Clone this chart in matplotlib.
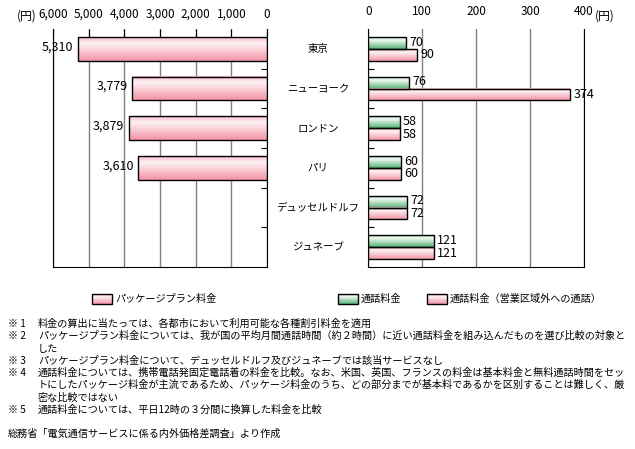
import matplotlib.pyplot as plt
import numpy as np
from matplotlib.colors import to_rgb
from matplotlib.transforms import blended_transform_factory
from matplotlib.patches import Rectangle

plt.rcParams['font.family'] = ['Noto Sans CJK JP', 'DejaVu Sans']

# Data
cities = ["東京", "ニューヨーク", "ロンドン", "パリ", "デュッセルドルフ", "ジュネーブ"]
package_fee = [5310, 3779, 3879, 3610, None, None]
call_fee = [70, 76, 58, 60, 72, 121]
call_fee_out = [90, 374, 58, 60, 72, 121]
left_ticks = [6000, 5000, 4000, 3000, 2000, 1000, 0]
right_ticks = [0, 100, 200, 300, 400]
legend_labels = ["パッケージプラン料金", "通話料金", "通話料金（営業区域外への通話）"]
notes = [
    ("※ 1", "料金の算出に当たっては、各都市において利用可能な各種割引料金を適用"),
    ("※ 2", "パッケージプラン料金については、我が国の平均月間通話時間（約２時間）に近い通話料金を組み込んだものを選び比較の対象と"),
    ("", "した"),
    ("※ 3", "パッケージプラン料金について、デュッセルドルフ及びジュネーブでは該当サービスなし"),
    ("※ 4", "通話料金については、携帯電話発固定電話着の料金を比較。なお、米国、英国、フランスの料金は基本料金と無料通話時間をセッ"),
    ("", "トにしたパッケージ料金が主流であるため、パッケージ料金のうち、どの部分までが基本料であるかを区別することは難しく、厳"),
    ("", "密な比較ではない"),
    ("※ 5", "通話料金については、平日12時の３分間に換算した料金を比較"),
]
source = "総務省「電気通信サービスに係る内外価格差調査」より作成"

W, H = 635, 449
fig = plt.figure(figsize=(W / 100, H / 100), dpi=100)


def fx(px):
    return px / W


def fy(py):
    return 1 - py / H


def gradient(top, mid, bottom, n=40):
    top, mid, bottom = np.array(to_rgb(top)), np.array(to_rgb(mid)), np.array(to_rgb(bottom))
    t = np.linspace(0, 1, n)
    rows = []
    for v in t:
        if v < 0.25:
            c = top + (mid - top) * v / 0.25
        else:
            c = mid + (bottom - mid) * (v - 0.25) / 0.75
        rows.append(c)
    return np.array(rows)[:, None, :]


pink = gradient("#f5bcc7", "#fdf2f4", "#f595a8")
green = gradient("#b4dcbf", "#f0f9f2", "#55b374")


def fill_bars(ax, bars, grad):
    for p in bars.patches:
        x0, y0, w, h = p.get_x(), p.get_y(), p.get_width(), p.get_height()
        ax.imshow(grad, extent=(x0, x0 + w, y0 + h, y0), origin="upper",
                  aspect="auto", zorder=2, interpolation="bilinear")


ypos = np.arange(len(cities))
axl = fig.add_axes([fx(53), fy(267), fx(267 - 53), (267 - 29) / H])
axr = fig.add_axes([fx(368.3), fy(267), fx(584 - 368.3), (267 - 29) / H])

# left panel
idx = [i for i, v in enumerate(package_fee) if v is not None]
vals = [package_fee[i] for i in idx]
b = axl.barh([ypos[i] for i in idx], vals, height=0.6, facecolor="none",
             edgecolor="black", linewidth=1, zorder=3)
fill_bars(axl, b, pink)
for i, v in zip(idx, vals):
    axl.text(v + 120, ypos[i] - 0.05, f"{v:,}", ha="right", va="center", fontsize=9)

axl.set_xlim(6000, 0)
axl.set_ylim(len(cities) - 0.5, -0.5)
axl.set_xticks(left_ticks)
axl.set_xticklabels([f"{t:,}" for t in left_ticks])
axl.xaxis.tick_top()
axl.tick_params(axis="x", direction="in", length=6, pad=6, labelsize=8.5, color="black")
axl.grid(axis="x", color="#808080", linewidth=1, zorder=1)
axl.set_axisbelow(True)
axl.spines["top"].set_visible(False)
axl.yaxis.tick_right()
axl.set_yticks(ypos[:-1] + 0.5)
axl.set_yticklabels([])
axl.tick_params(axis="y", direction="in", length=4)

# right panel
b1 = axr.barh(ypos - 0.15, call_fee, height=0.3, facecolor="none",
              edgecolor="black", linewidth=1, zorder=3)
b2 = axr.barh(ypos + 0.15, call_fee_out, height=0.3, facecolor="none",
              edgecolor="black", linewidth=1, zorder=3)
fill_bars(axr, b1, green)
fill_bars(axr, b2, pink)
for i in range(len(cities)):
    axr.text(call_fee[i] + 6, ypos[i] - 0.17, str(call_fee[i]), ha="left", va="center", fontsize=9)
    axr.text(call_fee_out[i] + 6, ypos[i] + 0.15, str(call_fee_out[i]), ha="left", va="center", fontsize=9)

axr.set_xlim(0, 400)
axr.set_ylim(len(cities) - 0.5, -0.5)
axr.set_xticks(right_ticks)
axr.xaxis.tick_top()
axr.tick_params(axis="x", length=0, pad=8, labelsize=8.5)
axr.grid(axis="x", color="#808080", linewidth=1, zorder=1)
axr.set_axisbelow(True)
axr.spines["top"].set_visible(False)
axr.set_yticks(ypos[:-1] + 0.5)
axr.set_yticklabels([])
axr.tick_params(axis="y", direction="in", length=4)

# unit labels
fig.text(fx(37), fy(16), "(円)", ha="right", va="center", fontsize=8.5)
fig.text(fx(595), fy(16), "(円)", ha="left", va="center", fontsize=8.5)

# city labels
tr = blended_transform_factory(fig.transFigure, axr.transData)
for i, c in enumerate(cities):
    fig.text(fx(318), ypos[i], c, transform=tr, ha="center", va="center", fontsize=7.5)

# legend
leg_x = [92, 338, 427]
leg_cols = [pink, green, pink]
for x, g, lab in zip(leg_x, leg_cols, legend_labels):
    lax = fig.add_axes([fx(x), fy(304), fx(20), 10 / H])
    lax.imshow(g, extent=(0, 1, 0, 1), aspect="auto", interpolation="bilinear")
    lax.add_patch(Rectangle((0, 0), 1, 1, fill=False, edgecolor="black", linewidth=1,
                            transform=lax.transAxes, clip_on=False))
    lax.set_axis_off()
    fig.text(fx(x + 23), fy(299), lab, ha="left", va="center", fontsize=7.3)

# notes
line_y = [324, 336, 349, 361, 373, 385, 398, 410]
for (mark, body), y in zip(notes, line_y):
    if mark:
        fig.text(fx(8), fy(y), mark, ha="left", va="center", fontsize=7.3)
    fig.text(fx(38), fy(y), body, ha="left", va="center", fontsize=7.3)
fig.text(fx(8), fy(434), source, ha="left", va="center", fontsize=7.3)

fig.savefig("out.png", dpi=100)
